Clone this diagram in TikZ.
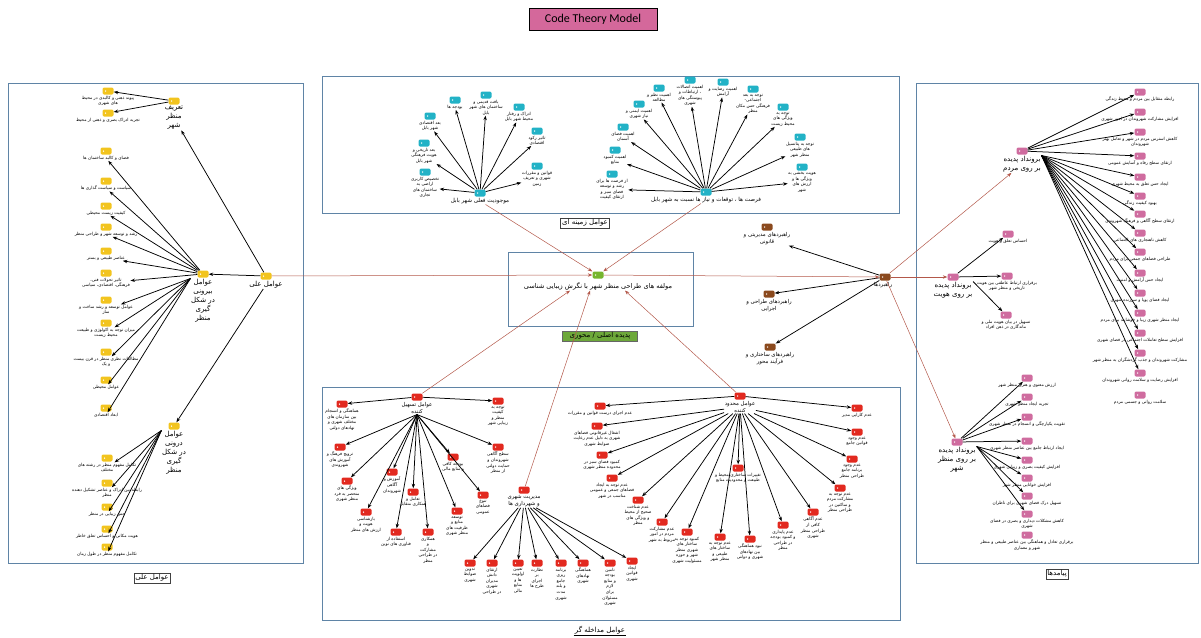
\documentclass[tikz,border=0pt]{standalone}
\usepackage{fontspec}
\setmainfont{Carlito}
\newfontfamily\arabicfont[Script=Arabic]{DejaVu Sans}
\TeXXeTstate=1
\usetikzlibrary{arrows.meta}
\definecolor{yel}{HTML}{F2C41E}
\definecolor{cyn}{HTML}{22B2C6}
\definecolor{brn}{HTML}{8B4A1E}
\definecolor{pnk}{HTML}{CF6C9F}
\definecolor{rd}{HTML}{E2291F}
\definecolor{grn}{HTML}{76B52E}
\definecolor{conn}{HTML}{B3584A}
\definecolor{frm}{HTML}{5F84A6}
\definecolor{ttl}{HTML}{D4689B}
\definecolor{lblg}{HTML}{6DA83A}
\newcommand\fa[1]{\beginR #1\endR}
\tikzset{
  tg/.style={rectangle, rounded corners=1.3pt, minimum width=11pt, minimum height=7pt, inner sep=0pt, fill=#1,
    path picture={\fill[white] ([xshift=3pt]path picture bounding box.west) circle (0.75pt);}},
  lbl/.style={font=\arabicfont\fontsize{4.3}{5.6}\selectfont, align=center, inner sep=0.4pt},
  hubl/.style={font=\arabicfont\fontsize{7}{9}\selectfont, align=center, inner sep=0.5pt},
  hubm/.style={font=\arabicfont\fontsize{5.6}{7}\selectfont, align=center, inner sep=0.5pt},
  hubs/.style={font=\arabicfont\fontsize{5.4}{7.4}\selectfont, align=center, inner sep=0.5pt},
  hubc/.style={font=\arabicfont\fontsize{6.6}{8}\selectfont, align=center, inner sep=0.5pt},
  arr/.style={-{Stealth[length=4.5pt,width=3.4pt]}, line width=0.75pt, black},
  rarr/.style={-{Stealth[length=4.5pt,width=3.4pt]}, line width=0.5pt, conn},
  frame/.style={draw=frm, line width=0.8pt},
  boxlbl/.style={draw=black!75, line width=0.4pt, font=\arabicfont\fontsize{7}{8}\selectfont, inner sep=1.5pt, fill=white},
}
\newcommand\leafnode[5]{\node[tg=#4] (#1) at (#2,#3) {};\node[lbl,anchor=north] (#1-t) at ([yshift=-0.6pt]#1.south) {#5};}
\newcommand\hubnode[6]{\node[tg=#4] (#1) at (#2,#3) {};\node[#5,anchor=north] (#1-t) at ([yshift=-0.8pt]#1.south) {#6};}
\begin{document}
\begin{tikzpicture}[x=1pt,y=-1pt]
\useasboundingbox (0,0) rectangle (1201,637);
% frames
\draw[frame] (8,83) rectangle (303,563);
\draw[frame] (322,76) rectangle (899,213);
\draw[frame] (508,252) rectangle (693,326);
\draw[frame] (916,83) rectangle (1198,563);
\draw[frame] (322,387) rectangle (900,620);
% title
\node[draw=black, line width=0.6pt, fill=ttl, font=\fontsize{12}{14}\selectfont, minimum width=128pt, minimum height=22pt, inner sep=0pt] (title) at (593,19) {Code Theory Model};
% box labels
\node[boxlbl] (lblcause) at (152,578) {\fa{عوامل علی}};
\node[boxlbl] (lblctx) at (585,223) {\fa{عوامل زمینه ای}};
\node[boxlbl] (lblout) at (1057,574) {\fa{پیامدها}};
\node[font=\arabicfont\fontsize{7}{8}\selectfont, inner sep=1pt] (lblint) at (600,630) {\fa{عوامل مداخله گر}};
\draw[line width=0.4pt] (lblint.south west) -- (lblint.south east);
\node[fill=lblg, draw=black!60, line width=0.3pt, font=\arabicfont\fontsize{7}{8}\selectfont, inner sep=1.5pt, minimum width=75pt] (lblcore) at (600,336) {\fa{پدیده اصلی / محوری}};

% ================= LEFT (causal) =================
\hubnode{cause}{266}{276}{yel}{hubl}{\fa{عوامل علی}}
\hubnode{def}{174}{101}{yel}{hubl}{\fa{تعریف}\\\fa{منظر}\\\fa{شهر}}
\hubnode{ext}{203}{274}{yel}{hubl}{\fa{عوامل}\\\fa{بیرونی}\\\fa{در شکل}\\\fa{گیری}\\\fa{منظر}}
\hubnode{int}{174}{426}{yel}{hubl}{\fa{عوامل}\\\fa{درونی}\\\fa{در شکل}\\\fa{گیری}\\\fa{منظر}}
\leafnode{d1}{108}{91}{yel}{\fa{پیوند ذهنی و کالبدی در محیط}\\\fa{های شهری}}
\leafnode{d2}{108}{113}{yel}{\fa{تجربه ادراک بصری و ذهنی از محیط}}
\leafnode{e1}{106}{151}{yel}{\fa{فضای و کالبد ساختمان ها}}
\leafnode{e2}{106}{181}{yel}{\fa{سیاست و سیاست گذاری ها}}
\leafnode{e3}{106}{206}{yel}{\fa{کیفیت زیست محیطی}}
\leafnode{e4}{106}{227}{yel}{\fa{رشد و توسعه شهر و طراحی منظر}}
\leafnode{e5}{106}{251}{yel}{\fa{عناصر طبیعی و بستر}}
\leafnode{e6}{106}{273}{yel}{\fa{تاثیر تحولات فنی،}\\\fa{فرهنگی، اقتصادی، سیاسی}}
\leafnode{e7}{106}{300}{yel}{\fa{عوامل توسعه و رشد ساخت و}\\\fa{ساز}}
\leafnode{e8}{106}{323}{yel}{\fa{میزان توجه به اکولوژی و طبیعت}\\\fa{محیط زیست}}
\leafnode{e9}{106}{352}{yel}{\fa{مطالعات نظری منظر در قرن بیست}\\\fa{و یک}}
\leafnode{e10}{106}{380}{yel}{\fa{عوامل محیطی}}
\leafnode{e11}{106}{408}{yel}{\fa{ابعاد اقتصادی}}
\leafnode{i1}{107}{458}{yel}{\fa{تکامل مفهوم منظر در رشته های}\\\fa{مختلف}}
\leafnode{i2}{107}{483}{yel}{\fa{رابطه بین ادراک و عناصر تشکیل دهنده}\\\fa{منظر}}
\leafnode{i3}{107}{507}{yel}{\fa{حس زیبایی در منظر}}
\leafnode{i4}{107}{529}{yel}{\fa{هویت مکانی و احساس تعلق خاطر}}
\leafnode{i5}{107}{547}{yel}{\fa{تکامل مفهوم منظر در طول زمان}}
\draw[arr] (cause) -- (ext);
\draw[arr] (cause) -- (def-t);
\draw[arr] (cause-t) -- (int);
\draw[arr] (def) -- (d1);
\draw[arr] (def) -- (d2);
\foreach \i in {1,...,6} {\draw[arr] (ext) -- (e\i-t);}
\foreach \i in {7,...,11} {\draw[arr] (ext-t.north west) -- (e\i-t);}
\foreach \i in {1,...,5} {\draw[arr] (int-t.north west) -- (i\i-t);}

% ================= TOP (context) =================
\hubnode{exist}{480}{193}{cyn}{hubm}{\fa{موجودیت فعلی شهر بابل}}
\leafnode{c1}{425}{172}{cyn}{\fa{تخصیص کاربری}\\\fa{اراضی به}\\\fa{ساختمان های}\\\fa{تجاری}}
\leafnode{c2}{424}{143}{cyn}{\fa{بعد تاریخی و}\\\fa{هویت فرهنگی}\\\fa{شهر بابل}}
\leafnode{c3}{430}{116}{cyn}{\fa{بعد اقتصادی}\\\fa{شهر بابل}}
\leafnode{c4}{455}{100}{cyn}{\fa{بودجه ها}}
\leafnode{c5}{486}{95}{cyn}{\fa{بافت قدیمی و}\\\fa{ساختمان های شهر}\\\fa{بابل}}
\leafnode{c6}{519}{107}{cyn}{\fa{ادراک و رفتار}\\\fa{محیط شهر بابل}}
\leafnode{c7}{537}{131}{cyn}{\fa{تاثیر رکود}\\\fa{اقتصادی}}
\leafnode{c8}{537}{166}{cyn}{\fa{قوانین و مقررات}\\\fa{شهری و تعریف}\\\fa{زمین}}
\foreach \i in {1,...,8} {\draw[arr] (exist) -- (c\i-t);}
\hubnode{opp}{706}{192}{cyn}{hubm}{\fa{فرصت ها ، توقعات و نیاز ها نسبت به شهر بابل}}
\leafnode{o1}{612}{174}{cyn}{\fa{از فرصت ها برای}\\\fa{رشد و توسعه}\\\fa{فضای سبز و}\\\fa{ارتقای کیفیت}}
\leafnode{o2}{615}{150}{cyn}{\fa{اهمیت کمبود}\\\fa{منابع}}
\leafnode{o3}{623}{127}{cyn}{\fa{اهمیت فضای}\\\fa{آسمان}}
\leafnode{o4}{639}{104}{cyn}{\fa{اهمیت ایمنی و}\\\fa{نیاز شهری}}
\leafnode{o5}{659}{88}{cyn}{\fa{اهمیت نظم و}\\\fa{مطالعه}}
\leafnode{o6}{690}{80}{cyn}{\fa{اهمیت اتصالات}\\\fa{، ارتباطات و}\\\fa{پیوستگی های}\\\fa{شهری}}
\leafnode{o7}{723}{82}{cyn}{\fa{اهمیت رضایت و}\\\fa{آرامش}}
\leafnode{o8}{753}{89}{cyn}{\fa{توجه به بعد}\\\fa{اجتماعی-}\\\fa{فرهنگی حس مکان}\\\fa{منظر}}
\leafnode{o9}{783}{107}{cyn}{\fa{توجه به}\\\fa{ویژگی های}\\\fa{محیط زیست}}
\leafnode{o10}{800}{137}{cyn}{\fa{توجه به پتانسیل}\\\fa{های طبیعی}\\\fa{منظر شهر}}
\leafnode{o11}{802}{167}{cyn}{\fa{هویت بخشی به}\\\fa{ویژگی ها و}\\\fa{ارزش های}\\\fa{شهر}}
\foreach \i in {1,...,11} {\draw[arr] (opp) -- (o\i-t);}

% ================= CENTER =================
\node[tg=grn] (core) at (598,275) {};
\node[hubc,anchor=north] (core-t) at ([yshift=-3pt]core.south) {\fa{مولفه های طراحی منظر شهر با نگرش زیبایی شناسی}};

% ================= STRATEGIES =================
\node[tg=brn] (strat) at (885,277) {};
\node[hubs,anchor=north] (strat-t) at ([xshift=-2pt,yshift=-1pt]strat.south) {\fa{راهبردها}};
\hubnode{s1}{767}{227}{brn}{hubs}{\fa{راهبردهای مدیریتی و}\\\fa{قانونی}}
\hubnode{s2}{769}{294}{brn}{hubs}{\fa{راهبردهای طراحی و}\\\fa{اجرایی}}
\hubnode{s3}{770}{347}{brn}{hubs}{\fa{راهبردهای ساختاری و}\\\fa{فرآیند محور}}
\draw[arr] (strat) -- (s1-t);
\draw[arr] (strat) -- (s2);
\draw[arr] (strat) -- (s3);

% ================= OUTCOMES =================
\hubnode{peo}{1022}{151}{pnk}{hubl}{\fa{برونداد پدیده}\\\fa{بر روی مردم}}
\leafnode{p1}{1140}{92}{pnk}{\fa{رابطه متقابل بین مردم و محیط زندگی}}
\leafnode{p2}{1140}{112}{pnk}{\fa{افزایش مشارکت شهروندان در امور شهری}}
\leafnode{p3}{1140}{132}{pnk}{\fa{کاهش استرس مردم در شهر و تعامل بهتر}\\\fa{شهروندان}}
\leafnode{p4}{1140}{156}{pnk}{\fa{ارتقای سطح رفاه و آسایش عمومی}}
\leafnode{p5}{1140}{177}{pnk}{\fa{ایجاد حس تعلق به محیط شهری}}
\leafnode{p6}{1140}{196}{pnk}{\fa{بهبود کیفیت زندگی}}
\leafnode{p7}{1140}{214}{pnk}{\fa{ارتقای سطح آگاهی و فرهنگ شهروندی}}
\leafnode{p8}{1140}{233}{pnk}{\fa{کاهش ناهنجاری های اجتماعی}}
\leafnode{p9}{1140}{252}{pnk}{\fa{طراحی فضاهای جمعی برای مردم}}
\leafnode{p10}{1140}{273}{pnk}{\fa{ایجاد حس آرامش و امنیت}}
\leafnode{p11}{1140}{293}{pnk}{\fa{ایجاد فضای پویا و سرزنده شهری}}
\leafnode{p12}{1140}{313}{pnk}{\fa{ایجاد منظر شهری زیبا و خوشایند برای مردم}}
\leafnode{p13}{1140}{333}{pnk}{\fa{افزایش سطح تعاملات اجتماعی در فضای شهری}}
\leafnode{p14}{1140}{353}{pnk}{\fa{مشارکت شهروندان و جذب گردشگران به منظر شهر}}
\leafnode{p15}{1140}{373}{pnk}{\fa{افزایش رضایت و سلامت روانی شهروندان}}
\leafnode{p16}{1140}{395}{pnk}{\fa{سلامت روانی و جسمی مردم}}
\foreach \i in {1,...,4} {\draw[arr] (peo) -- (p\i);}
\foreach \i in {5,...,15} {\draw[arr] (peo-t.north east) -- (p\i);}
\hubnode{hv}{953}{277}{pnk}{hubl}{\fa{برونداد پدیده}\\\fa{بر روی هویت}}
\leafnode{h1}{1008}{234}{pnk}{\fa{احساس تعلق و هویت}}
\leafnode{h2}{1007}{276}{pnk}{\fa{برقراری ارتباط عاطفی بین هویت}\\\fa{تاریخی و منظر شهر}}
\leafnode{h3}{1006}{315}{pnk}{\fa{تسهیل در بیان هویت ملی و}\\\fa{ماندگاری در ذهن افراد}}
\draw[arr] (hv) -- (h1);
\draw[arr] (hv) -- (h2);
\draw[arr] (hv-t.north east) -- (h3);
\hubnode{mo}{957}{442}{pnk}{hubl}{\fa{برونداد پدیده}\\\fa{بر روی منظر}\\\fa{شهر}}
\leafnode{m1}{1027}{378}{pnk}{\fa{ارزش معنوی و هنری منظر شهر}}
\leafnode{m2}{1027}{397}{pnk}{\fa{تجربه ایجاد منظر شهری}}
\leafnode{m3}{1027}{417}{pnk}{\fa{تقویت یکپارچگی و انسجام در منظر شهری}}
\leafnode{m4}{1027}{441}{pnk}{\fa{ایجاد ارتباط جامع بین عناصر منظر شهری}}
\leafnode{m5}{1027}{460}{pnk}{\fa{افزایش کیفیت بصری و زیبایی شهری}}
\leafnode{m6}{1027}{478}{pnk}{\fa{افزایش خوانایی منظر شهر}}
\leafnode{m7}{1027}{496}{pnk}{\fa{تسهیل درک فضای شهری برای ناظران}}
\leafnode{m8}{1027}{514}{pnk}{\fa{کاهش مشکلات دیداری و بصری در فضای}\\\fa{شهری}}
\leafnode{m9}{1027}{535}{pnk}{\fa{برقراری تعادل و هماهنگی بین عناصر طبیعی و منظر}\\\fa{شهر و معماری}}
\foreach \i in {1,...,4} {\draw[arr] (mo) -- (m\i);}
\foreach \i in {5,...,8} {\draw[arr] (mo-t.north east) -- (m\i);}

% ================= BOTTOM (intervening) =================
\hubnode{fac}{417}{397}{rd}{hubs}{\fa{عوامل تسهیل}\\\fa{کننده}}
\leafnode{f1}{342}{404}{rd}{\fa{هماهنگی و انسجام}\\\fa{بین سازمان های}\\\fa{مختلف شهری و}\\\fa{نهادهای دولتی}}
\leafnode{f2}{340}{447}{rd}{\fa{ترویج فرهنگ و}\\\fa{آموزش های}\\\fa{شهروندی}}
\leafnode{f3}{347}{481}{rd}{\fa{ویژگی های}\\\fa{منحصر به فرد}\\\fa{منظر شهری}}
\leafnode{f4}{366}{512}{rd}{\fa{بازشناسی}\\\fa{هویت و}\\\fa{ارزش های منظر}}
\leafnode{f5}{392}{472}{rd}{\fa{آموزش و}\\\fa{آگاهی}\\\fa{شهروندان}}
\leafnode{f6}{396}{532}{rd}{\fa{استفاده از}\\\fa{فناوری های نوین}}
\leafnode{f7}{413}{492}{rd}{\fa{تعامل و}\\\fa{همکاری متقابل}}
\leafnode{f8}{428}{532}{rd}{\fa{همکاری}\\\fa{و}\\\fa{مشارکت}\\\fa{در طراحی}\\\fa{منظر}}
\leafnode{f9}{453}{457}{rd}{\fa{بودجه کافی}\\\fa{و منابع مالی}}
\leafnode{f10}{457}{511}{rd}{\fa{توسعه}\\\fa{منابع و}\\\fa{ظرفیت های}\\\fa{منظر شهری}}
\leafnode{f11}{483}{495}{rd}{\fa{تنوع}\\\fa{فضاهای}\\\fa{عمومی}}
\leafnode{f12}{498}{447}{rd}{\fa{سطح آگاهی}\\\fa{شهروندان و}\\\fa{حمایت دولتی}\\\fa{از منظر}}
\leafnode{f13}{498}{401}{rd}{\fa{توجه به}\\\fa{کیفیت}\\\fa{منظر و}\\\fa{زیبایی شهر}}
\draw[arr] (fac) -- (f1);
\draw[arr] (fac) -- (f13);
\foreach \i in {2,...,12} {\draw[arr] (fac-t.south) -- (f\i);}
\hubnode{mg}{524}{490}{rd}{hubs}{\fa{مدیریت شهری}\\\fa{و شهرداری ها}}
\leafnode{g1}{470}{563}{rd}{\fa{تدوین}\\\fa{ضوابط}\\\fa{شهری}}
\leafnode{g2}{492}{563}{rd}{\fa{ارتقای}\\\fa{دانش}\\\fa{مدیران}\\\fa{شهری}\\\fa{در طراحی}}
\leafnode{g3}{518}{563}{rd}{\fa{تعیین}\\\fa{اولویت}\\\fa{ها و}\\\fa{منابع}\\\fa{مالی}}
\leafnode{g4}{537}{563}{rd}{\fa{نظارت}\\\fa{بر}\\\fa{اجرای}\\\fa{طرح ها}}
\leafnode{g5}{561}{563}{rd}{\fa{برنامه}\\\fa{ریزی}\\\fa{جامع}\\\fa{و بلند}\\\fa{مدت}\\\fa{شهری}}
\leafnode{g6}{583}{563}{rd}{\fa{هماهنگی}\\\fa{نهادهای}\\\fa{شهری}}
\leafnode{g7}{610}{563}{rd}{\fa{تامین}\\\fa{بودجه}\\\fa{و منابع}\\\fa{لازم}\\\fa{برای}\\\fa{مسئولان}\\\fa{شهری}}
\leafnode{g8}{632}{561}{rd}{\fa{ایجاد}\\\fa{قوانین}\\\fa{شهری}}
\foreach \i in {1,...,8} {\draw[arr] (mg-t) -- (g\i);}
\hubnode{lim}{740}{396}{rd}{hubs}{\fa{عوامل محدود}\\\fa{کننده}}
\leafnode{l1}{600}{406}{rd}{\fa{عدم اجرای درست قوانین و مقررات}}
\leafnode{l2}{597}{426}{rd}{\fa{اشغال غیرقانونی فضاهای}\\\fa{شهری به دلیل عدم رعایت}\\\fa{ضوابط شهری}}
\leafnode{l3}{602}{455}{rd}{\fa{کمبود فضای سبز در}\\\fa{محدوده منظر شهری}}
\leafnode{l4}{612}{478}{rd}{\fa{عدم توجه به ایجاد}\\\fa{فضاهای جمعی و عمومی}\\\fa{مناسب در شهر}}
\leafnode{l5}{638}{500}{rd}{\fa{عدم شناخت}\\\fa{صحیح از محیط}\\\fa{و ویژگی های}\\\fa{منظر}}
\leafnode{l6}{662}{522}{rd}{\fa{عدم مشارکت}\\\fa{مردم در امور}\\\fa{مربوط به شهر}}
\leafnode{l7}{687}{532}{rd}{\fa{کمبود توجه به}\\\fa{ساختار های}\\\fa{شهری منظر}\\\fa{شهر و حوزه}\\\fa{مسئولیت شهری}}
\leafnode{l8}{720}{537}{rd}{\fa{عدم توجه به}\\\fa{ساختار های}\\\fa{طبیعی و}\\\fa{منظر شهر}}
\leafnode{l9}{738}{468}{rd}{\fa{تغییرات ساختاری محیط و}\\\fa{طبیعت و محدودیت منابع}}
\leafnode{l10}{750}{539}{rd}{\fa{نبود هماهنگی}\\\fa{بین نهادهای}\\\fa{شهری و دولتی}}
\leafnode{l11}{783}{525}{rd}{\fa{عدم پایداری}\\\fa{و کمبود بودجه}\\\fa{در طراحی}\\\fa{منظر}}
\leafnode{l12}{813}{512}{rd}{\fa{عدم آگاهی}\\\fa{کافی از}\\\fa{طراحی منظر}\\\fa{شهری}}
\leafnode{l13}{840}{488}{rd}{\fa{عدم توجه به}\\\fa{مشارکت مردم}\\\fa{و ساکنین در}\\\fa{طراحی منظر}}
\leafnode{l14}{852}{459}{rd}{\fa{عدم وجود}\\\fa{برنامه جامع}\\\fa{طراحی منظر}}
\leafnode{l15}{857}{432}{rd}{\fa{عدم وجود}\\\fa{قوانین جامع}}
\leafnode{l16}{857}{408}{rd}{\fa{عدم کارایی مدیر}}
\draw[arr] (lim) -- (l1);
\draw[arr] (lim) -- (l16);
\foreach \i in {2,...,15} {\draw[arr] (lim-t) -- (l\i);}

% ================= red connectors =================
\draw[rarr] (cause) -- (core);
\draw[rarr] (exist-t) -- (core);
\draw[rarr] (opp-t) -- (core);
\draw[rarr] (core) -- (strat);
\draw[rarr] (fac) -- ([xshift=-28pt]core-t.south);
\draw[rarr] (mg) -- ([xshift=-8pt]core-t.south);
\draw[rarr] (lim) -- ([xshift=27pt]core-t.south);
\draw[rarr] (strat) -- (peo-t);
\draw[rarr] (strat) -- (hv);
\draw[rarr] (strat) -- (mo);
\end{tikzpicture}
\end{document}
